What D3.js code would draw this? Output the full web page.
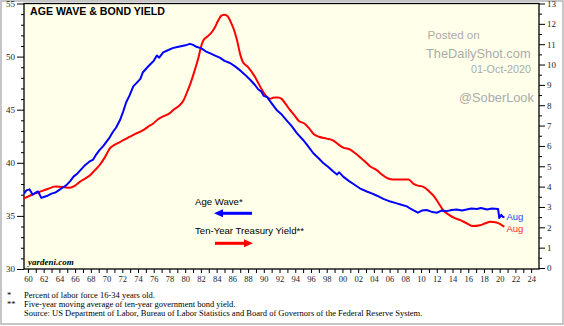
<!DOCTYPE html>
<html>
<head>
<meta charset="utf-8">
<script src="https://cdn.jsdelivr.net/npm/d3@7"></script>
<style>
body { margin: 0; background: #fff; }
svg { display: block; }
</style>
</head>
<body>
<div id="chart"></div>
<script>
// Age wave: percent of labor force aged 16-34 (left axis)
const ageWave = [
  [1959.5, 37.1], [1959.8, 37.4], [1960.2, 37.5], [1960.6, 37.0], [1961.0, 37.2], [1961.3, 37.3],
  [1961.7, 36.7], [1962.1, 36.8], [1962.5, 36.9], [1963.0, 37.1], [1963.5, 37.2], [1963.9, 37.4],
  [1964.3, 37.6], [1964.9, 37.9], [1965.4, 38.3], [1965.8, 38.7], [1966.3, 39.0], [1966.8, 39.4],
  [1967.3, 39.8], [1967.8, 40.1], [1968.3, 40.3], [1968.7, 40.8], [1969.1, 41.2], [1969.6, 41.6],
  [1970.0, 42.0], [1970.4, 42.4], [1970.8, 42.9], [1971.2, 43.3], [1971.7, 44.0], [1972.1, 44.8],
  [1972.5, 45.7], [1972.9, 46.3], [1973.4, 47.2], [1973.8, 47.5], [1974.3, 47.9], [1974.6, 48.5],
  [1975.2, 49.0], [1975.6, 49.3], [1976.0, 49.6], [1976.4, 50.1], [1976.7, 49.9], [1977.2, 50.4],
  [1977.8, 50.6], [1978.4, 50.8], [1979.0, 50.9], [1979.6, 51.0], [1980.2, 51.1], [1980.6, 51.2],
  [1981.0, 51.1], [1981.5, 50.9], [1982.0, 50.8], [1982.6, 50.5], [1983.2, 50.3], [1983.8, 50.1],
  [1984.4, 49.9], [1985.0, 49.6], [1985.7, 49.4], [1986.3, 49.1], [1987.0, 48.7], [1987.6, 48.3],
  [1988.3, 47.8], [1988.9, 47.3], [1989.3, 46.9], [1989.7, 46.7], [1990.0, 46.3], [1990.4, 46.2],
  [1991.0, 45.6], [1991.6, 45.0], [1992.2, 44.6], [1992.9, 44.0], [1993.5, 43.5], [1994.2, 42.8],
  [1995.0, 42.15], [1995.6, 41.6], [1996.3, 40.9], [1997.0, 40.4], [1997.6, 39.95], [1998.2, 39.6],
  [1998.8, 39.2], [1999.3, 38.9], [1999.6, 39.1], [2000.1, 38.7], [2000.8, 38.3], [2001.4, 38.0],
  [2002.2, 37.6], [2003.1, 37.3], [2003.8, 37.1], [2004.4, 36.9], [2005.2, 36.6], [2006.1, 36.35],
  [2006.8, 36.2], [2007.5, 36.05], [2008.2, 35.9], [2008.6, 35.7], [2009.0, 35.55], [2009.6, 35.3],
  [2010.1, 35.5], [2010.7, 35.55], [2011.3, 35.4], [2012.0, 35.3], [2012.6, 35.5], [2013.3, 35.45],
  [2013.9, 35.55], [2014.5, 35.6], [2015.2, 35.5], [2015.8, 35.6], [2016.4, 35.7], [2017.1, 35.65],
  [2017.6, 35.75], [2018.4, 35.6], [2019.0, 35.7], [2019.8, 35.65], [2019.95, 34.8], [2020.2, 35.1],
  [2020.4, 34.9], [2020.6, 34.9]
];

// five-year moving average of the ten-year Treasury yield (right axis)
const bondYield = [
  [1959.5, 3.42], [1960.5, 3.6], [1961.5, 3.74], [1962.5, 3.88], [1963.5, 4.0], [1964.5, 3.98],
  [1965.3, 3.94], [1966.0, 4.05], [1966.6, 4.23], [1967.3, 4.4], [1967.9, 4.56], [1968.5, 4.8],
  [1969.1, 5.05], [1969.8, 5.45], [1970.4, 5.87], [1971.0, 6.05], [1971.7, 6.19], [1972.3, 6.32],
  [1972.9, 6.44], [1973.7, 6.6], [1974.6, 6.76], [1975.3, 6.95], [1975.9, 7.09], [1976.5, 7.3],
  [1977.2, 7.45], [1978.0, 7.6], [1978.6, 7.8], [1979.3, 8.0], [1979.8, 8.25], [1980.3, 8.7],
  [1980.7, 9.1], [1981.2, 9.7], [1981.7, 10.36], [1982.0, 10.85], [1982.3, 11.18], [1982.9, 11.4],
  [1983.4, 11.6], [1983.8, 11.85], [1984.2, 12.16], [1984.6, 12.4], [1985.0, 12.45], [1985.4, 12.37],
  [1985.9, 12.0], [1986.3, 11.6], [1986.6, 11.18], [1987.0, 10.5], [1987.3, 10.15], [1988.0, 9.87],
  [1988.9, 9.38], [1989.7, 8.8], [1990.3, 8.45], [1990.8, 8.32], [1991.3, 8.38], [1991.8, 8.38],
  [1992.3, 8.3], [1992.8, 8.05], [1993.3, 7.78], [1993.9, 7.5], [1994.4, 7.25], [1995.2, 7.09],
  [1995.8, 6.85], [1996.3, 6.6], [1997.0, 6.45], [1998.0, 6.36], [1998.8, 6.27], [1999.4, 6.1],
  [2000.1, 5.92], [2001.0, 5.82], [2001.6, 5.65], [2002.2, 5.46], [2002.9, 5.22], [2003.5, 5.0],
  [2004.4, 4.8], [2005.0, 4.6], [2005.8, 4.4], [2006.5, 4.35], [2007.3, 4.35], [2008.4, 4.35],
  [2009.0, 4.15], [2009.4, 4.07], [2010.3, 3.99], [2011.1, 3.74], [2011.6, 3.55], [2012.0, 3.33],
  [2012.4, 3.08], [2012.8, 2.84], [2013.6, 2.6], [2014.3, 2.45], [2015.0, 2.35], [2015.8, 2.2],
  [2016.6, 2.06], [2017.5, 2.1], [2018.2, 2.2], [2018.8, 2.27], [2019.6, 2.24], [2020.3, 2.1],
  [2020.6, 2.03]
];

const leftTicks = [30, 35, 40, 45, 50, 55];
const leftMinor = [31, 32, 33, 34, 36, 37, 38, 39, 41, 42, 43, 44, 46, 47, 48, 49, 51, 52, 53, 54];
const rightTicks = [0, 1, 2, 3, 4, 5, 6, 7, 8, 9, 10, 11, 12, 13];
const rightMinor = [0.5, 1.5, 2.5, 3.5, 4.5, 5.5, 6.5, 7.5, 8.5, 9.5, 10.5, 11.5, 12.5];
const yearLabels = [1960, 1962, 1964, 1966, 1968, 1970, 1972, 1974, 1976, 1978, 1980, 1982, 1984,
  1986, 1988, 1990, 1992, 1994, 1996, 1998, 2000, 2002, 2004, 2006, 2008, 2010, 2012, 2014,
  2016, 2018, 2020, 2022, 2024];
const yearMinor = [1961, 1963, 1965, 1967, 1969, 1971, 1973, 1975, 1977, 1979, 1981, 1983, 1985,
  1987, 1989, 1991, 1993, 1995, 1997, 1999, 2001, 2003, 2005, 2007, 2009, 2011, 2013, 2015,
  2017, 2019, 2021, 2023];
const footnotes = [
  ['*', 'Percent of labor force 16-34 years old.'],
  ['**', 'Five-year moving average of ten-year government bond yield.'],
  ['', 'Source: US Department of Labor, Bureau of Labor Statistics and Board of Governors of the Federal Reserve System.']
];

const width = 564, height = 326;
const plot = {left: 24, right: 539, top: 3.5, bottom: 269};
const serif = '"Liberation Serif", "Times New Roman", serif';
const sans = '"Liberation Sans", Arial, sans-serif';

const svg = d3.select('#chart').append('svg').attr('width', width).attr('height', height);

svg.append('rect').attr('x', 1).attr('y', 1).attr('width', width - 2).attr('height', height - 3)
  .attr('fill', '#fff').attr('stroke', '#b4b4b4').attr('stroke-width', 1.5);

svg.append('rect').attr('x', plot.left).attr('y', plot.top)
  .attr('width', plot.right - plot.left).attr('height', plot.bottom - plot.top)
  .attr('fill', '#ffffea');

const x = d3.scaleLinear().domain([1959.5, 2025]).range([plot.left, plot.right]);
const yL = d3.scaleLinear().domain([30, 55]).range([plot.bottom, plot.top]);
const yR = d3.scaleLinear().domain([0, 13]).range([plot.bottom - 1, plot.top]);

function styleAxis(g, size) {
  g.select('.domain').remove();
  g.selectAll('.tick line').attr('stroke', '#000');
  g.selectAll('.tick text').attr('font-family', serif).attr('font-size', size).attr('fill', '#222');
}

// left axis
svg.append('g').attr('transform', `translate(${plot.left},0)`)
  .call(d3.axisLeft(yL).tickValues(leftTicks).tickSize(7).tickPadding(2))
  .call(g => styleAxis(g, 9));
svg.append('g').attr('transform', `translate(${plot.left},0)`)
  .call(d3.axisLeft(yL).tickValues(leftMinor).tickSize(3).tickFormat(''))
  .call(g => styleAxis(g, 9));

// right axis
svg.append('g').attr('transform', `translate(${plot.right},0)`)
  .call(d3.axisRight(yR).tickValues(rightTicks).tickSize(6).tickPadding(2))
  .call(g => styleAxis(g, 9));
svg.append('g').attr('transform', `translate(${plot.right},0)`)
  .call(d3.axisRight(yR).tickValues(rightMinor).tickSize(3).tickFormat(''))
  .call(g => styleAxis(g, 9));

// bottom axis, one tick per year, labels every other year
svg.append('g').attr('transform', `translate(0,${plot.bottom})`)
  .call(d3.axisBottom(x).tickValues(yearLabels).tickSize(4).tickPadding(3)
    .tickFormat(d => String(d).slice(2)))
  .call(g => styleAxis(g, 8.5));
svg.append('g').attr('transform', `translate(0,${plot.bottom})`)
  .call(d3.axisBottom(x).tickValues(yearMinor).tickSize(4).tickFormat(''))
  .call(g => styleAxis(g, 8.5));

// plot frame
svg.append('rect').attr('x', plot.left).attr('y', plot.top)
  .attr('width', plot.right - plot.left).attr('height', plot.bottom - plot.top)
  .attr('fill', 'none').attr('stroke', '#000').attr('stroke-width', 1.3);

svg.append('clipPath').attr('id', 'plotclip').append('rect')
  .attr('x', plot.left).attr('y', plot.top)
  .attr('width', plot.right - plot.left).attr('height', plot.bottom - plot.top);

const lines = svg.append('g').attr('clip-path', 'url(#plotclip)');

lines.append('path').datum(bondYield)
  .attr('d', d3.line().x(d => x(d[0])).y(d => yR(d[1])).curve(d3.curveMonotoneX))
  .attr('fill', 'none').attr('stroke', '#ff0000').attr('stroke-width', 2);

lines.append('path').datum(ageWave)
  .attr('d', d3.line().x(d => x(d[0])).y(d => yL(d[1])))
  .attr('fill', 'none').attr('stroke', '#0000ff').attr('stroke-width', 2)
  .attr('stroke-linejoin', 'round');

// end-of-series labels
const lastAge = ageWave[ageWave.length - 1];
const lastYield = bondYield[bondYield.length - 1];
svg.append('text').attr('x', x(lastAge[0]) + 2).attr('y', yL(lastAge[1]) + 3)
  .attr('font-family', sans).attr('font-size', 9.5).attr('fill', '#2a3cff').text('Aug');
svg.append('text').attr('x', x(lastYield[0]) + 2).attr('y', yR(lastYield[1]) + 5)
  .attr('font-family', sans).attr('font-size', 9.5).attr('fill', '#ff2a2a').text('Aug');

// title and source mark
svg.append('text').attr('x', 30).attr('y', 15)
  .attr('font-family', sans).attr('font-weight', 'bold').attr('font-size', 10.6)
  .attr('fill', '#000').text('AGE WAVE & BOND YIELD');
svg.append('text').attr('x', 28).attr('y', 265)
  .attr('font-family', serif).attr('font-weight', 'bold').attr('font-style', 'italic')
  .attr('font-size', 9).attr('fill', '#000').text('yardeni.com');

// legend
svg.append('text').attr('x', 195).attr('y', 205)
  .attr('font-family', sans).attr('font-size', 9.6).attr('fill', '#000').text('Age Wave*');
svg.append('line').attr('x1', 221).attr('x2', 252).attr('y1', 213.3).attr('y2', 213.3)
  .attr('stroke', '#0000ff').attr('stroke-width', 3);
svg.append('path').attr('d', 'M214,213.3L223,209.3L223,217.3Z').attr('fill', '#0000ff');

svg.append('text').attr('x', 195).attr('y', 234)
  .attr('font-family', sans).attr('font-size', 9.6).attr('fill', '#000').text('Ten-Year Treasury Yield**');
svg.append('line').attr('x1', 215).attr('x2', 245).attr('y1', 243.3).attr('y2', 243.3)
  .attr('stroke', '#ff0000').attr('stroke-width', 3);
svg.append('path').attr('d', 'M253,243.3L244,239.3L244,247.3Z').attr('fill', '#ff0000');

// watermark
const mark = svg.append('g').attr('font-family', sans).attr('fill', '#ababab');
mark.append('text').attr('x', 427.5).attr('y', 39).attr('font-size', 11.6).text('Posted on');
mark.append('text').attr('x', 426).attr('y', 58).attr('font-size', 12.8).text('TheDailyShot.com');
mark.append('text').attr('x', 531).attr('y', 73).attr('text-anchor', 'end')
  .attr('font-size', 10.8).text('01-Oct-2020');
mark.append('text').attr('x', 459).attr('y', 101.5).attr('font-size', 12.8).text('@SoberLook');

// footnotes
const notes = svg.append('g').attr('font-family', serif).attr('font-size', 8.5).attr('fill', '#000');
footnotes.forEach((n, i) => {
  const yy = 298 + i * 9;
  notes.append('text').attr('x', 7).attr('y', yy).text(n[0]);
  notes.append('text').attr('x', 24).attr('y', yy).text(n[1]);
});
</script>
</body>
</html>
